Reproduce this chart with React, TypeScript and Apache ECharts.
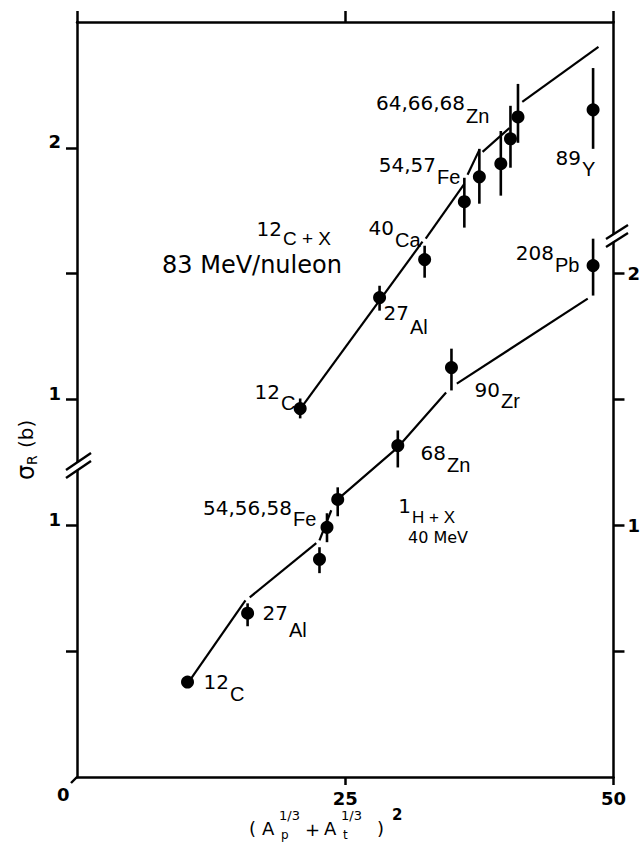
import React, { useEffect, useRef } from "react";
import * as echarts from "echarts";

const WIDTH = 643;
const HEIGHT = 844;

// 12C + X at 83 MeV/nucleon (read on the left-hand upper scale)
const carbonX = [20.8, 28.2, 32.4, 36.1, 37.5, 39.5, 40.4, 41.1, 48.1];
const carbonSigma = [0.964, 1.405, 1.556, 1.786, 1.885, 1.937, 2.036, 2.123, 2.151];
const carbonLow = [0.925, 1.353, 1.484, 1.683, 1.778, 1.81, 1.921, 2.02, 1.996];
const carbonHigh = [1.004, 1.452, 1.611, 1.881, 1.996, 2.067, 2.167, 2.254, 2.317];

// 1H + X at 40 MeV (read on the right-hand / lower scale)
const protonX = [10.3, 15.9, 22.6, 23.3, 24.3, 29.9, 34.9, 48.1];
const protonSigma = [0.377, 0.651, 0.865, 0.992, 1.103, 1.317, 1.627, 2.032];
const protonLow = [0.365, 0.599, 0.81, 0.933, 1.036, 1.23, 1.536, 1.913];
const protonHigh = [0.39, 0.69, 0.913, 1.048, 1.151, 1.377, 1.702, 2.139];

// calculated curves, drawn as broken segments
const carbonCurve = [
  [[20.9, 0.968], [32.2, 1.627]],
  [[32.5, 1.639], [36.1, 1.857]],
  [[36.4, 1.893], [37.5, 1.992]],
  [[37.8, 1.984], [40.3, 2.079]],
  [[41.5, 2.183], [48.6, 2.401]],
];
const protonCurve = [
  [[10.4, 0.377], [15.7, 0.702]],
  [[16.1, 0.714], [22.3, 0.929]],
  [[22.6, 0.94], [23.7, 1.06]],
  [[24.4, 1.107], [29.9, 1.31], [34.4, 1.528]],
  [[35.4, 1.563], [47.6, 1.901]],
];

// the 12C data sit 0.5 b higher on the shared frame than their own scale says
const CARBON_SHIFT = 0.5;

// axis ticks and labels (frame values)
const xTicksTop = [0, 25, 50];
const xTicksBottom = [25, 50];
const xTickLabels = [25, 50];
const leftTicks = [0.5, 1, 1.5, 2, 2.5];
const leftLabels = [1, 1.5, 2.5];
const rightTicks = [0.5, 1, 1.5, 2];
const rightLabels = [1, 2];

const NUM_FONT = '20px "DejaVu Sans"';
const SYM_FONT = '20px "Liberation Sans"';

type Tag = { num: string; sym: string; ny: number; sx: number; sy: number };

// mass number sits just left of the element symbol, raised
const tags: Tag[] = [
  { num: "64,66,68", sym: "Zn", ny: 103, sx: 466, sy: 116 },
  { num: "54,57", sym: "Fe", ny: 165, sx: 437, sy: 177 },
  { num: "89", sym: "Y", ny: 158, sx: 582, sy: 169 },
  { num: "40", sym: "Ca", ny: 228, sx: 395, sy: 240 },
  { num: "208", sym: "Pb", ny: 253, sx: 555, sy: 265 },
  { num: "27", sym: "Al", ny: 313, sx: 410, sy: 327 },
  { num: "12", sym: "C", ny: 392, sx: 281, sy: 403 },
  { num: "90", sym: "Zr", ny: 390, sx: 501, sy: 401 },
  { num: "68", sym: "Zn", ny: 453, sx: 447, sy: 465 },
  { num: "54,56,58", sym: "Fe", ny: 508, sx: 293, sy: 519 },
  { num: "27", sym: "Al", ny: 613, sx: 289, sy: 630 },
  { num: "12", sym: "C", ny: 682, sx: 230, sy: 694 },
];

function text(x: number, y: number, s: string, font: string, align = "left") {
  return {
    type: "text",
    x,
    y,
    silent: true,
    style: { text: s, font, fill: "#000", align, verticalAlign: "middle" },
  };
}

function buildOption() {
  const black = "#000";
  const curveSeries = [
    ...carbonCurve.map((seg) => seg.map(([x, y]) => [x, y + CARBON_SHIFT])),
    ...protonCurve,
  ].map((seg) => ({
    type: "line",
    data: seg,
    symbol: "none",
    lineStyle: { color: black, width: 2.2 },
    silent: true,
    z: 2,
  }));

  const errorData = [
    ...carbonX.map((x, i) => [x, carbonLow[i] + CARBON_SHIFT, carbonHigh[i] + CARBON_SHIFT]),
    ...protonX.map((x, i) => [x, protonLow[i], protonHigh[i]]),
  ];

  const pointData = [
    ...carbonX.map((x, i) => [x, carbonSigma[i] + CARBON_SHIFT]),
    ...protonX.map((x, i) => [x, protonSigma[i]]),
  ];

  const tagGraphics = tags.flatMap((t) => [
    text(t.sx - 1, t.ny, t.num, NUM_FONT, "right"),
    text(t.sx, t.sy, t.sym, SYM_FONT),
  ]);

  const annotations = [
    text(282, 229, "12", NUM_FONT, "right"),
    text(283, 238, "C + X", '19px "Liberation Sans"'),
    text(162, 265, "83 MeV/nuleon", '24px "DejaVu Sans"'),
    text(411, 506, "1", NUM_FONT, "right"),
    text(412, 517, "H + X", '17px "Liberation Sans"'),
    text(408, 537, "40 MeV", '16px "DejaVu Sans"'),
  ];

  // x-axis title: (A_p^{1/3} + A_t^{1/3})^2
  const xTitle = [
    text(249, 828, "(", '18px "DejaVu Sans"'),
    text(262, 828, "A", '18px "DejaVu Sans"'),
    text(279, 815, "1/3", '13px "DejaVu Sans"'),
    text(281, 835, "p", '12px "DejaVu Sans"'),
    text(305, 829, "+", '18px "DejaVu Sans"'),
    text(324, 828, "A", '18px "DejaVu Sans"'),
    text(341, 815, "1/3", '13px "DejaVu Sans"'),
    text(343, 835, "t", '12px "DejaVu Sans"'),
    text(377, 828, ")", '18px "DejaVu Sans"'),
    text(392, 815, "2", 'bold 15px "DejaVu Sans"'),
  ];

  // y-axis title, rotated to read upwards
  const yTitle = {
    type: "group",
    x: 26,
    y: 445,
    rotation: Math.PI / 2,
    children: [
      text(-35, 0, "σ", '24px "DejaVu Sans"'),
      text(-20, 6, "R", '14px "DejaVu Sans"'),
      text(-3, 0, "(b)", '20px "DejaVu Sans"'),
    ],
  };

  const thick = { stroke: black, lineWidth: 2.4 };
  const breaks = [
    // left axis break
    { type: "polygon", shape: { points: [[66, 477], [90, 461], [90, 454], [66, 470]] }, style: { fill: "#fff" }, z: 20 },
    { type: "line", shape: { x1: 66, y1: 478, x2: 91, y2: 461 }, style: thick, z: 21 },
    { type: "line", shape: { x1: 66, y1: 470, x2: 91, y2: 453 }, style: thick, z: 21 },
    // right axis break
    { type: "polygon", shape: { points: [[606, 246], [628, 232], [628, 225], [606, 239]] }, style: { fill: "#fff" }, z: 20 },
    { type: "line", shape: { x1: 606, y1: 247, x2: 628, y2: 233 }, style: thick, z: 21 },
    { type: "line", shape: { x1: 606, y1: 239, x2: 628, y2: 225 }, style: thick, z: 21 },
    // corner nick at the origin
    { type: "line", shape: { x1: 77, y1: 777, x2: 71, y2: 783 }, style: thick, z: 21 },
    text(57, 794, "0", 'bold 18px "DejaVu Sans"'),
  ];

  const axisLine = { onZero: false, lineStyle: { color: black, width: 2.5 } };

  return {
    animation: false,
    backgroundColor: "#fff",
    grid: { left: 77, right: 26, top: 22, bottom: 67, containLabel: false },
    xAxis: [
      {
        type: "value",
        position: "bottom",
        min: 0,
        max: 50,
        interval: 25,
        axisLine,
        splitLine: { show: false },
        axisTick: { customValues: xTicksBottom, length: 8, lineStyle: { color: black, width: 2.5 } },
        axisLabel: {
          customValues: xTickLabels,
          margin: 12,
          color: black,
          fontFamily: "DejaVu Sans",
          fontWeight: "bold",
          fontSize: 18,
        },
      },
      {
        type: "value",
        position: "top",
        min: 0,
        max: 50,
        interval: 25,
        axisLine,
        splitLine: { show: false },
        axisTick: { customValues: xTicksTop, length: 11, lineStyle: { color: black, width: 2.5 } },
        axisLabel: { show: false },
      },
    ],
    yAxis: [
      {
        type: "value",
        position: "left",
        min: 0,
        max: 3,
        interval: 0.5,
        axisLine,
        splitLine: { show: false },
        axisTick: { customValues: leftTicks, length: 11, lineStyle: { color: black, width: 2.5 } },
        axisLabel: {
          customValues: leftLabels,
          formatter: (v: number) => String(v > 1.25 ? v - CARBON_SHIFT : v),
          margin: 16,
          color: black,
          fontFamily: "DejaVu Sans",
          fontWeight: "bold",
          fontSize: 18,
          verticalAlign: "bottom",
          lineHeight: 12,
        },
      },
      {
        type: "value",
        position: "right",
        min: 0,
        max: 3,
        interval: 0.5,
        axisLine,
        splitLine: { show: false },
        axisTick: { customValues: rightTicks, length: 11, lineStyle: { color: black, width: 2.5 } },
        axisLabel: {
          customValues: rightLabels,
          formatter: (v: number) => String(v),
          margin: 14,
          color: black,
          fontFamily: "DejaVu Sans",
          fontWeight: "bold",
          fontSize: 18,
        },
      },
    ],
    series: [
      ...curveSeries,
      {
        type: "custom",
        silent: true,
        z: 3,
        data: errorData,
        renderItem: (_params: any, api: any) => {
          const x = api.value(0);
          const a = api.coord([x, api.value(1)]);
          const b = api.coord([x, api.value(2)]);
          return {
            type: "line",
            shape: { x1: a[0], y1: a[1], x2: b[0], y2: b[1] },
            style: { stroke: black, lineWidth: 2.6 },
          };
        },
      },
      {
        type: "scatter",
        data: pointData,
        symbol: "circle",
        symbolSize: 13,
        itemStyle: { color: black, opacity: 1 },
        silent: true,
        z: 4,
      },
    ],
    graphic: [...tagGraphics, ...annotations, ...xTitle, yTitle, ...breaks],
  };
}

export default function App() {
  const ref = useRef<HTMLDivElement>(null);
  useEffect(() => {
    if (!ref.current) return;
    const chart = echarts.init(ref.current, null, { renderer: "svg" });
    chart.setOption(buildOption() as any);
    return () => chart.dispose();
  }, []);
  return (
    <div
      ref={ref}
      style={{ position: "fixed", left: 0, top: 0, width: WIDTH, height: HEIGHT, background: "#fff" }}
    />
  );
}
